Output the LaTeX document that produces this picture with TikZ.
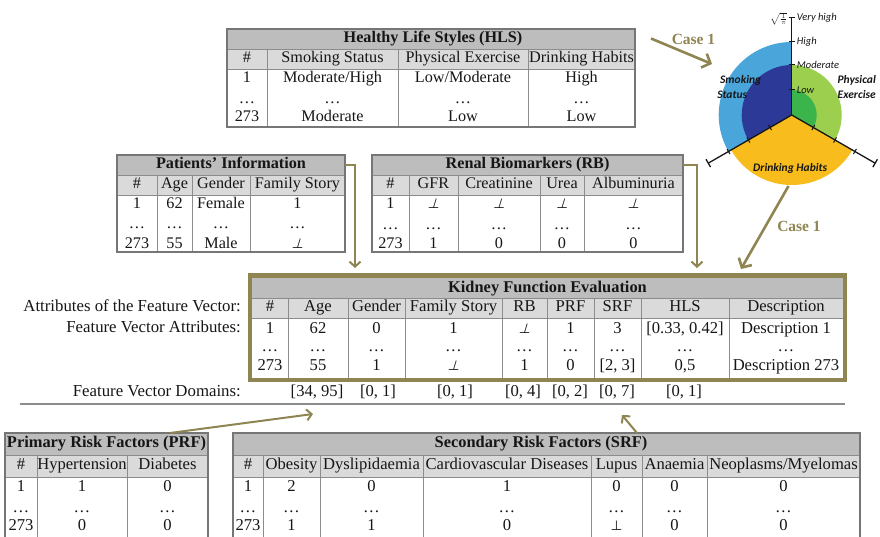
\documentclass[tikz,border=0pt]{standalone}
\usepackage{fontspec}
\setmainfont{Liberation Serif}
\newfontfamily\chartfont{Carlito}
\newfontfamily\symfont{DejaVu Sans}
\newfontfamily\slsymfont[FakeSlant=0.3]{DejaVu Sans}
\usetikzlibrary{arrows.meta}

\definecolor{rulegray}{HTML}{8C8C8C}
\definecolor{framegray}{HTML}{767676}
\definecolor{titlefill}{HTML}{BDBDBD}
\definecolor{headfill}{HTML}{DADADA}
\definecolor{olive}{HTML}{8E8552}
\definecolor{ink}{HTML}{161616}
\definecolor{smokeout}{HTML}{4AA5DA}
\definecolor{smokein}{HTML}{2D3996}
\definecolor{exout}{HTML}{9BCF4D}
\definecolor{exin}{HTML}{3BB44B}
\definecolor{drink}{HTML}{F8BC1C}

% the "unknown" entry of the tables, slanted and upright
\newcommand\nullval{{\slsymfont\fontsize{13.5}{14}\selectfont ⊥}}
\newcommand\nullup{{\symfont\fontsize{13.5}{14}\selectfont ⊥}}

\tikzset{
  cell/.style={inner sep=0pt, text=ink, font=\fontsize{16.2}{19}\selectfont,
    text height=10.5pt, text depth=3.5pt},
  bigcell/.style={cell, font=\fontsize{16.6}{19}\selectfont},
  % ellipsis cells: the box hugs the dots so it does not reach the next row
  dots/.style={cell, text height=2pt, text depth=0pt},
  bigdots/.style={bigcell, text height=2pt, text depth=0pt},
  ttl/.style={cell, font=\fontsize{16.2}{19}\selectfont\bfseries},
  bigttl/.style={cell, font=\fontsize{16.4}{19}\selectfont\bfseries},
  lbl/.style={cell, anchor=east, font=\fontsize{16.8}{19}\selectfont},
  rule/.style={draw=rulegray, line width=0.9pt},
  frame/.style={draw=framegray, line width=1.8pt, inner sep=0pt, outer sep=0pt, anchor=north west},
  kframe/.style={draw=olive, line width=4.5pt, inner sep=0pt, outer sep=0pt, anchor=north west},
  conn/.style={draw=olive, line width=2pt, -{Straight Barb[length=5pt,width=11pt]}},
  bigconn/.style={draw=olive, line width=2.6pt, -{Straight Barb[length=7pt,width=15pt]}},
  casetext/.style={inner sep=0pt, text=olive, font=\fontsize{15.5}{18}\selectfont\bfseries},
  axis/.style={draw=ink, line width=1.3pt},
  sectorlabel/.style={inner sep=0pt, text=ink, font={\chartfont\fontsize{11.5}{13}\selectfont\bfseries\itshape}},
  levellabel/.style={inner sep=0pt, text=ink, anchor=west, font={\chartfont\fontsize{10.5}{12}\selectfont\itshape}}
}

\begin{document}
\begin{tikzpicture}[x=1pt,y=-1pt]
\useasboundingbox (0,0) rectangle (880,537);
\clip (0,0) rectangle (880,537);

% ---------- Healthy Life Styles ----------
\fill[titlefill] (227,29) rectangle (635,49);
\fill[headfill] (227,49) rectangle (635,69);
\draw[rule] (227,49) -- (635,49) (227,69) -- (635,69)
  (267,49) -- (267,127) (398,49) -- (398,127) (528,49) -- (528,127);
\node[frame, minimum width=408pt, minimum height=98pt] (hls) at (227,29) {};
\node[ttl] (hls-t) at (433,39) {Healthy Life Styles (HLS)};
\foreach \x/\t [count=\i] in {247/\#, 332.5/Smoking Status, 463/Physical Exercise, 581.5/Drinking Habits}
  \node[cell] (hls-h\i) at (\x,59) {\t};
\foreach \x/\t [count=\i] in {247/1, 332.5/{Moderate/High}, 463/{Low/Moderate}, 581.5/High}
  \node[cell] (hls-a\i) at (\x,79) {\t};
\foreach \x [count=\i] in {247, 332.5, 463, 581.5}
  \node[dots] (hls-d\i) at (\x,102.5) {\ldots};
\foreach \x/\t [count=\i] in {247/273, 332.5/Moderate, 463/Low, 581.5/Low}
  \node[cell] (hls-b\i) at (\x,118) {\t};

% ---------- Patients' Information ----------
\fill[titlefill] (117,155) rectangle (345,175);
\fill[headfill] (117,175) rectangle (345,195);
\draw[rule] (117,175) -- (345,175) (117,195) -- (345,195)
  (157,175) -- (157,252) (192,175) -- (192,252) (250,175) -- (250,252);
\node[frame, minimum width=228pt, minimum height=97pt] (pat) at (117,155) {};
\node[ttl] (pat-t) at (231,165) {Patients’ Information};
\foreach \x/\t [count=\i] in {137/\#, 174.5/Age, 221/Gender, 297.5/Family Story}
  \node[cell] (pat-h\i) at (\x,185) {\t};
\foreach \x/\t [count=\i] in {137/1, 174.5/62, 221/Female, 297.5/1}
  \node[cell] (pat-a\i) at (\x,205) {\t};
\foreach \x [count=\i] in {137, 174.5, 221, 297.5}
  \node[dots] (pat-d\i) at (\x,228) {\ldots};
\foreach \x/\t [count=\i] in {137/273, 174.5/55, 221/Male, 297.5/\nullval}
  \node[cell] (pat-b\i) at (\x,245) {\t};

% ---------- Renal Biomarkers ----------
\fill[titlefill] (372,155) rectangle (683,175);
\fill[headfill] (372,175) rectangle (683,195);
\draw[rule] (372,175) -- (683,175) (372,195) -- (683,195)
  (409,175) -- (409,252) (458,175) -- (458,252) (540,175) -- (540,252) (584,175) -- (584,252);
\node[frame, minimum width=311pt, minimum height=97pt] (rb) at (372,155) {};
\node[ttl] (rb-t) at (527.5,165) {Renal Biomarkers (RB)};
\foreach \x/\t [count=\i] in {390.5/\#, 433.5/GFR, 499/Creatinine, 562/Urea, 633.5/Albuminuria}
  \node[cell] (rb-h\i) at (\x,185) {\t};
\foreach \x/\t [count=\i] in {390.5/1, 433.5/\nullval, 499/\nullval, 562/\nullval, 633.5/\nullval}
  \node[cell] (rb-a\i) at (\x,205) {\t};
\foreach \x [count=\i] in {390.5, 433.5, 499, 562, 633.5}
  \node[dots] (rb-d\i) at (\x,229) {\ldots};
\foreach \x/\t [count=\i] in {390.5/273, 433.5/1, 499/0, 562/0, 633.5/0}
  \node[cell] (rb-b\i) at (\x,245) {\t};

% ---------- Kidney Function Evaluation ----------
\fill[titlefill] (252,277.5) rectangle (843,298);
\fill[headfill] (252,298) rectangle (843,318);
\draw[rule] (252,298) -- (843,298) (252,318) -- (843,318);
\foreach \x in {288,348,405,502,547,594,641,729}
  \draw[rule] (\x,298) -- (\x,378);
\node[kframe, minimum width=595pt, minimum height=104.5pt] (kfe) at (250,275.5) {};
\node[bigttl] (kfe-t) at (547.5,288.5) {Kidney Function Evaluation};
\foreach \x/\t [count=\i] in {270/\#, 318/Age, 376.5/Gender, 453.5/Family Story, 524.5/RB,
    570.5/PRF, 617.5/SRF, 685/HLS, 786/Description}
  \node[bigcell] (kfe-h\i) at (\x,308) {\t};
\foreach \x/\t [count=\i] in {270/1, 318/62, 376.5/0, 453.5/1, 524.5/\nullval,
    570.5/1, 617.5/3, 685/{[0.33, 0.42]}, 786/Description 1}
  \node[bigcell] (kfe-a\i) at (\x,330) {\t};
\foreach \x [count=\i] in {270, 318, 376.5, 453.5, 524.5, 570.5, 617.5, 685, 786}
  \node[bigdots] (kfe-d\i) at (\x,350) {\ldots};
\foreach \x/\t [count=\i] in {270/273, 318/55, 376.5/1, 453.5/\nullval, 524.5/1,
    570.5/0, 617.5/{[2, 3]}, 685/{0,5}, 786/Description 273}
  \node[bigcell] (kfe-b\i) at (\x,367) {\t};

% row captions and value domains
\node[lbl] (cap-a) at (241,308) {Attributes of the Feature Vector:};
\node[lbl] (cap-b) at (241,329) {Feature Vector Attributes:};
\node[lbl] (cap-c) at (241,393) {Feature Vector Domains:};
\foreach \x/\t [count=\i] in {317/{[34, 95]}, 378/{[0, 1]}, 455/{[0, 1]}, 523/{[0, 4]},
    570/{[0, 2]}, 617/{[0, 7]}, 684/{[0, 1]}}
  \node[bigcell] (dom\i) at (\x,393) {\t};
\draw[draw=rulegray, line width=1.3pt] (20,404) -- (845,404);

% ---------- Primary Risk Factors ----------
\fill[titlefill] (5,433) rectangle (208,455);
\fill[headfill] (5,455) rectangle (208,477);
\draw[rule] (5,455) -- (208,455) (5,477) -- (208,477)
  (37,455) -- (37,550) (127,455) -- (127,550);
\node[frame, minimum width=203pt, minimum height=117pt] (prf) at (5,433) {};
\node[bigttl] (prf-t) at (106.5,444) {Primary Risk Factors (PRF)};
\foreach \x/\t [count=\i] in {21/\#, 82/Hypertension, 167.5/Diabetes}
  \node[bigcell] (prf-h\i) at (\x,466) {\t};
\foreach \x/\t [count=\i] in {21/1, 82/1, 167.5/0}
  \node[bigcell] (prf-a\i) at (\x,488) {\t};
\foreach \x [count=\i] in {21, 82, 167.5}
  \node[bigdots] (prf-d\i) at (\x,511.5) {\ldots};
\foreach \x/\t [count=\i] in {21/273, 82/0, 167.5/0}
  \node[bigcell] (prf-b\i) at (\x,527) {\t};

% ---------- Secondary Risk Factors ----------
\fill[titlefill] (233,433) rectangle (860,455);
\fill[headfill] (233,455) rectangle (860,477);
\draw[rule] (233,455) -- (860,455) (233,477) -- (860,477);
\foreach \x in {263,320,423,591,642,707}
  \draw[rule] (\x,455) -- (\x,550);
\node[frame, minimum width=627pt, minimum height=117pt] (srf) at (233,433) {};
\node[bigttl] (srf-t) at (541,444) {Secondary Risk Factors (SRF)};
\foreach \x/\t [count=\i] in {248/\#, 291.5/Obesity, 371.5/Dyslipidaemia, 507/Cardiovascular Diseases,
    616.5/Lupus, 674.5/Anaemia, 783.5/{Neoplasms/Myelomas}}
  \node[bigcell] (srf-h\i) at (\x,466) {\t};
\foreach \x/\t [count=\i] in {248/1, 291.5/2, 371.5/0, 507/1, 616.5/0, 674.5/0, 783.5/0}
  \node[bigcell] (srf-a\i) at (\x,488) {\t};
\foreach \x [count=\i] in {248, 291.5, 371.5, 507, 616.5, 674.5, 783.5}
  \node[bigdots] (srf-d\i) at (\x,511.5) {\ldots};
\foreach \x/\t [count=\i] in {248/273, 291.5/1, 371.5/1, 507/0, 616.5/\nullup, 674.5/0, 783.5/0}
  \node[bigcell] (srf-b\i) at (\x,527) {\t};

% ---------- radial chart of the life styles ----------
\begin{scope}[shift={(791.7,115)}, y=1pt]
  \fill[smokeout] (0,0) -- (90:73) arc[start angle=90, end angle=210, radius=73] -- cycle;
  \fill[smokein] (0,0) -- (90:50) arc[start angle=90, end angle=210, radius=50] -- cycle;
  \fill[exout] (0,0) -- (-30:50) arc[start angle=-30, end angle=90, radius=50] -- cycle;
  \fill[exin] (0,0) -- (-30:25) arc[start angle=-30, end angle=90, radius=25] -- cycle;
  \fill[drink] (0,0) -- (210:70) arc[start angle=210, end angle=330, radius=70] -- cycle;
  \coordinate (pc) at (0,0);
  \draw[axis] (pc) -- (90:98);
  \draw[axis, -{Bar[width=9pt]}] (pc) -- (210:97);
  \draw[axis, -{Bar[width=9pt]}] (pc) -- (330:97);
  \foreach \a in {90,210,330}
    \foreach \r in {25,50,73}
      \draw[axis, line width=1pt] (\a:\r) ++(\a+90:3) -- ++(\a-90:6);
  \draw[axis, line width=1pt] (-3,97) -- (3,97);
  \node[levellabel] (lv4) at (5,97) {Very high};
  \node[levellabel] (lv3) at (5,73) {High};
  \node[levellabel] (lv2) at (5,50) {Moderate};
  \node[levellabel] (lv1) at (5,25) {Low};
  \node[inner sep=0pt, text=ink, font=\fontsize{8}{9}\selectfont] (scale) at (-13,96) {$\sqrt{\frac{1}{\pi}}$};
  \node[sectorlabel] (smk1) at (-51,35) {Smoking};
  \node[sectorlabel] (smk2) at (-59.5,20) {Status};
  \node[sectorlabel] (phy1) at (65,35) {Physical};
  \node[sectorlabel] (phy2) at (65,20) {Exercise};
  \node[sectorlabel] (drk) at (-1.5,-53) {Drinking Habits};
\end{scope}

% ---------- connectors ----------
\coordinate (pat-out) at (345,165);
\coordinate (kfe-in1) at (355,268);
\draw[conn] (pat-out) -| (kfe-in1);
\coordinate (rb-out) at (683,165);
\coordinate (kfe-in2) at (697,268);
\draw[conn] (rb-out) -| (kfe-in2);

\coordinate (hls-out) at (651,38.5);
\coordinate (pie-in) at (712,64);
\draw[bigconn] (hls-out) -- (pie-in);
\node[casetext] (case-a) at (693.5,39) {Case 1};

\coordinate (pie-out) at (788.5,186);
\coordinate (kfe-in3) at (741,269);
\draw[bigconn] (pie-out) -- (kfe-in3);
\node[casetext] (case-b) at (799,226) {Case 1};

\coordinate (prf-out) at (170,433);
\coordinate (dom-in1) at (313,414);
\draw[conn] (prf-out) -- (dom-in1);
\coordinate (srf-out) at (637,433);
\coordinate (dom-in2) at (622,415);
\draw[conn] (srf-out) -- (dom-in2);
\end{tikzpicture}
\end{document}
